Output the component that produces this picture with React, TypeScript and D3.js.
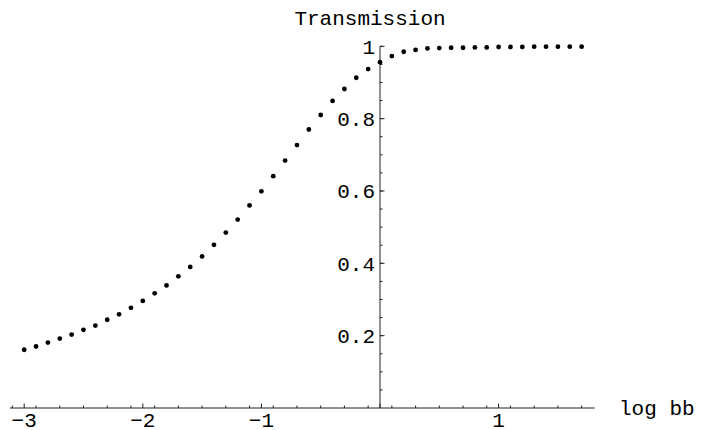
import React from "react";
import * as d3 from "d3";

const xValues = [
  -3.0, -2.9, -2.8, -2.7, -2.6, -2.5, -2.4, -2.3, -2.2, -2.1,
  -2.0, -1.9, -1.8, -1.7, -1.6, -1.5, -1.4, -1.3, -1.2, -1.1,
  -1.0, -0.9, -0.8, -0.7, -0.6, -0.5, -0.4, -0.3, -0.2, -0.1,
  0.0, 0.1, 0.2, 0.3, 0.4, 0.5, 0.6, 0.7, 0.8, 0.9,
  1.0, 1.1, 1.2, 1.3, 1.4, 1.5, 1.6, 1.7,
];
const transmission = [
  0.161, 0.170, 0.181, 0.192, 0.203, 0.216, 0.228, 0.244, 0.259, 0.277,
  0.296, 0.317, 0.339, 0.364, 0.390, 0.419, 0.451, 0.485, 0.521, 0.560,
  0.599, 0.641, 0.684, 0.727, 0.770, 0.810, 0.849, 0.882, 0.913, 0.937,
  0.956, 0.973, 0.985, 0.990, 0.994, 0.995, 0.996, 0.996, 0.997, 0.997,
  0.998, 0.998, 0.998, 0.999, 0.999, 0.999, 0.999, 0.999,
];
const xTickValues = [-3, -2, -1, 1];
const xTickLabels = ["\u22123", "\u22122", "\u22121", "1"];
const yTickValues = [0.2, 0.4, 0.6, 0.8, 1];
const yTickLabels = ["0.2", "0.4", "0.6", "0.8", "1"];
const xTitle = "log bb";
const yTitle = "Transmission";

const W = 702;
const H = 430;
const FONT = "'Liberation Mono', 'DejaVu Sans Mono', monospace";

export default function App() {
  const x = d3.scaleLinear().domain([-3, 1]).range([24.2, 498.6]);
  const y = d3.scaleLinear().domain([0, 1]).range([408, 46.3]);
  const x0 = x(0);
  const y0 = y(0);
  const xMin = x(-3.12);
  const xMax = x(1.81);

  const xMinor = d3.range(-31, 19, 2).map((d) => d / 10).filter((d) => d >= -3.1 && d <= 1.8);
  const yMinor = d3.range(1, 21).map((d) => d * 0.05);

  const axisColor = "#222";

  return (
    <svg
      width={W}
      height={H}
      style={{ position: "absolute", left: 0, top: 0, background: "#fff" }}
      fontFamily={FONT}
    >
      {/* x axis */}
      <line x1={xMin} x2={xMax} y1={y0} y2={y0} stroke={axisColor} strokeWidth={1} />
      {xMinor.map((d, i) => (
        <line key={"xm" + i} x1={x(d)} x2={x(d)} y1={y0} y2={y0 - 2.5} stroke={axisColor} strokeWidth={1} />
      ))}
      {d3.range(-3, 2).map((d) => (
        <line key={"xM" + d} x1={x(d)} x2={x(d)} y1={y0} y2={y0 - 4.5} stroke={axisColor} strokeWidth={1} />
      ))}
      {xTickValues.map((d, i) => (
        <text key={"xl" + i} x={x(d)} y={427} textAnchor="middle" fontSize={21} fill="#000">
          {xTickLabels[i]}
        </text>
      ))}
      <text x={619} y={y0 + 7} fontSize={21} fill="#000">
        {xTitle}
      </text>

      {/* y axis */}
      <line x1={x0} x2={x0} y1={y0} y2={y(1)} stroke={axisColor} strokeWidth={1} />
      {yMinor.map((d, i) => (
        <line key={"ym" + i} x1={x0} x2={x0 + 2.5} y1={y(d)} y2={y(d)} stroke={axisColor} strokeWidth={1} />
      ))}
      {yTickValues.map((d, i) => (
        <line key={"yM" + i} x1={x0} x2={x0 + 4.5} y1={y(d)} y2={y(d)} stroke={axisColor} strokeWidth={1} />
      ))}
      {yTickValues.map((d, i) => (
        <text
          key={"yl" + i}
          x={x0 - 5}
          y={y(d)}
          dy="0.35em"
          textAnchor="end"
          fontSize={21}
          fill="#000"
        >
          {yTickLabels[i]}
        </text>
      ))}
      <text x={370} y={25} textAnchor="middle" fontSize={21} fill="#000">
        {yTitle}
      </text>

      {/* points */}
      {xValues.map((d, i) => (
        <circle key={"p" + i} cx={x(d)} cy={y(transmission[i])} r={2.4} fill="#000" />
      ))}
    </svg>
  );
}
